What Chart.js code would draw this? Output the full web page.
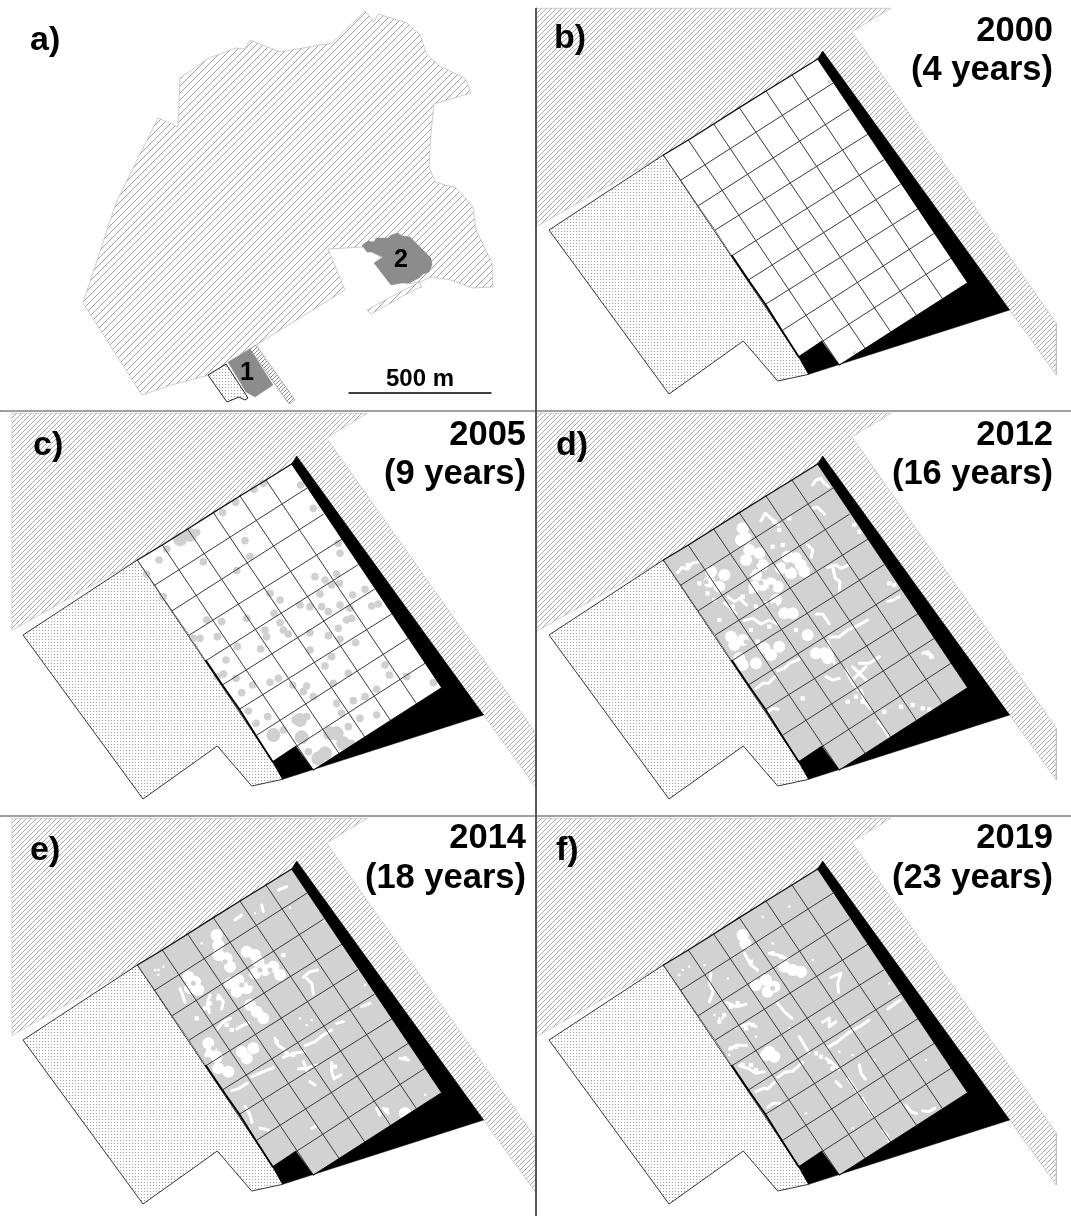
<!DOCTYPE html>
<html>
<head>
<meta charset="utf-8">
<title>Site maps</title>
<script src="https://cdn.jsdelivr.net/npm/chart.js@4/dist/chart.umd.js"></script>
<style>
  html, body { margin: 0; background: #fff; }
  canvas { display: block; }
</style>
</head>
<body>
<canvas id="map_chart" width="1071" height="1216"></canvas>
<script>
// panel a) outlines, read in page pixels
const estateOutline = [[365,11],[374,22],[378,14],[407,23],[420,35],[427,55],[441,67],[465,78],[471,93],[434,104],[431,133],[429,167],[435,182],[456,188],[473,207],[476,230],[492,263],[493,287],[472,288],[451,280],[431,277],[420,282],[406,284],[376,263],[381,257],[362,247],[328,249],[345,290],[256,345],[209,375],[171,385],[142,395],[83,303],[116,203],[137,160],[158,118],[178,127],[180,78],[209,58],[236,48],[245,49],[250,40],[280,52],[332,43]];
const estateSliver = [[367,310],[400,292],[420,282],[421,287],[410,292],[371,314]];
const patchOne = [[228,362],[250,349],[273,385],[255,397],[246,392]];
const patchTwo = [[362,245],[368,241],[374,242],[376,238],[388,238],[391,235],[398,233],[402,236],[410,237],[420,247],[431,258],[432,265],[429,272],[423,274],[419,278],[409,283],[402,283],[391,285],[374,263],[383,257],[372,252],[367,252]];
const sitePlotSmall = [[208,375],[226,364],[248,398],[245,400],[239,397],[227,402]];
const roadStrip = [[250,349],[256,345],[295,400],[289,404]];
const scaleBar = [[349,393],[491,393]];

// the site as it repeats in b) to f), in thirds of a pixel from the panel origin
const panelOrigins = { b: [656,45], c: [130,450], d: [656,450], e: [130,855], f: [656,855] };
const forestWide = [[-360,-110],[705,-110],[587,-40],[1201,835],[1201,990],[1061,795],[500,18],[485,42],[22,330],[-360,545]];
const forestLeft = [[-354,-110],[712,-110],[589,-36],[1218,851],[1218,1013],[1061,795],[500,18],[485,42],[22,330],[-354,541]];
const dottedArea = [[-321,555],[22,330],[75,405],[127,482],[178,555],[228,632],[277,705],[328,778],[378,857],[428,935],[458,988],[365,1008],[262,888],[39,1047]];
const plotOutline = [[22,330],[485,42],[935,713],[550,960],[497,888],[428,935],[378,857],[328,778],[277,705],[228,632],[178,555],[127,482],[75,405]];
const blackBorder = [[500,18],[1061,795],[458,988],[428,935],[497,888],[550,960],[935,713],[485,42]];
const thickEdge = [[228,632],[277,705],[328,778],[378,857],[428,935]];
const topEdge = [[22,330],[97,285],[173,237],[250,188],[330,138],[408,90],[485,42]];

const rowLines = [
  [[75,405],[530,115]],
  [[127,482],[580,193]],
  [[178,555],[635,268]],
  [[228,632],[683,345]],
  [[277,705],[733,418]],
  [[328,778],[785,492]],
  [[378,857],[835,565]],
  [[428,935],[885,640]],
  [[550,960],[935,713]]
];
const columnLines = [
  [[22,330],[428,935]],
  [[97,285],[550,960]],
  [[173,237],[627,910]],
  [[250,188],[705,862]],
  [[330,138],[782,812]],
  [[408,90],[860,762]],
  [[485,42],[935,713]]
];

// tree cover and gaps
const spots2000 = [[520,110],[910,675],[597,925]];
const spots2005 = [[87,330],[110,297],[50,372],[220,335],[278,188],[317,157],[372,118],[400,100],[512,105],[550,175],[345,272],[360,320],[320,362],[630,310],[625,280],[555,380],[585,390],[620,372],[570,432],[605,405],[628,400],[668,435],[705,418],[725,468],[745,462],[420,430],[450,450],[510,465],[540,470],[575,470],[595,485],[630,465],[660,475],[650,510],[665,505],[625,535],[595,557],[630,568],[677,578],[432,490],[450,518],[460,540],[475,552],[540,548],[410,560],[392,597],[350,505],[275,515],[230,510],[210,565],[190,565],[262,560],[322,590],[288,630],[280,672],[262,680],[318,685],[335,728],[368,705],[420,697],[445,685],[488,705],[530,708],[520,725],[550,740],[540,600],[605,620],[585,648],[655,670],[610,700],[670,752],[705,740],[740,718],[765,645],[778,675],[830,680],[910,698],[620,760],[635,790],[690,805],[740,795],[405,540],[100,440],[355,783],[378,820],[413,800],[495,810],[530,800],[435,850],[460,840],[535,905],[655,830],[665,880],[155,265],[175,255],[200,247]];
const clumps2005 = [[600,850],[620,850],[585,910],[565,925],[430,855],[515,862],[640,880],[510,810],[150,268],[180,255]];

const gapsBig2012 = [[165,365],[205,375],[190,410],[160,395],[260,235],[270,265],[255,270],[280,300],[310,310],[270,330],[320,345],[395,320],[420,325],[445,365],[375,355],[405,370],[435,345],[300,375],[320,405],[345,400],[365,410],[295,410],[360,450],[385,490],[410,490],[225,560],[235,585],[260,570],[325,595],[345,615],[370,590],[250,625],[260,645],[300,640],[455,555],[480,610],[505,610],[515,625]];
const gapsMid2012 = [[95,345],[130,400],[155,430],[175,450],[190,510],[230,470],[260,440],[285,425],[300,470],[330,460],[285,540],[340,530],[305,575],[420,540],[355,215],[380,285],[350,290],[370,240],[400,205],[700,400],[715,405],[620,755],[815,610],[825,620],[735,770],[770,765],[800,775],[820,778],[575,755],[600,740],[685,785],[440,745],[595,225],[610,245]];
const gapLines2012 = [[[65,368],[78,352],[95,358],[108,340],[130,335]],[[315,212],[328,190],[345,205],[368,225]],[[215,440],[235,455],[250,445],[272,465]],[[205,460],[222,472],[240,492]],[[265,512],[290,505],[315,522],[340,510],[365,522]],[[515,352],[540,345],[555,355],[578,345]],[[530,352],[538,385],[552,395],[550,420]],[[365,662],[385,655],[400,640],[430,627]],[[300,716],[320,700],[338,700],[356,680]],[[335,787],[350,775],[366,778]],[[590,650],[610,670],[630,690]],[[630,650],[612,668],[590,690]],[[610,640],[640,640],[670,620]],[[510,680],[530,690],[550,685]],[[570,660],[585,690],[605,720]],[[615,720],[625,755],[642,775]],[[665,815],[680,830],[700,862]],[[470,105],[480,90],[495,85],[505,100],[518,110]],[[470,175],[485,172],[505,192]],[[455,285],[470,300],[466,322]],[[695,455],[712,450],[730,440]],[[520,562],[550,560],[575,540],[605,527],[635,510]],[[480,492],[500,492],[520,522]],[[515,575],[525,600],[535,640]],[[800,610],[815,605],[830,622]]];
const stands2012 = [[150,395],[315,398],[350,370],[280,620],[395,350],[300,335],[240,440],[325,500],[345,410],[280,365],[200,430],[270,575],[355,465]];

const gapsBig2014 = [[175,365],[195,380],[205,405],[180,400],[260,240],[265,270],[265,300],[290,310],[300,335],[350,290],[375,300],[385,320],[405,345],[430,335],[450,360],[375,355],[300,385],[325,375],[350,400],[320,410],[360,450],[380,470],[400,490],[235,565],[245,590],[260,605],[335,590],[350,610],[370,580],[265,640],[295,650],[825,775]];
const gapsMid2014 = [[240,445],[225,460],[265,430],[290,510],[305,525],[230,600],[460,300],[440,560],[825,610],[770,765],[490,600],[470,595],[200,490],[615,635]];
const gapsSmall2014 = [[85,345],[75,345],[100,335],[85,360],[215,265],[510,490],[545,495],[530,510],[705,390],[885,720],[580,200],[480,158],[375,175]];
const gapLines2014 = [[[150,400],[158,420],[165,442]],[[240,420],[232,445],[238,472]],[[265,420],[280,440],[275,462]],[[262,522],[280,500],[302,490]],[[320,522],[340,510],[356,504]],[[520,367],[540,350],[562,345]],[[530,370],[545,385],[550,417]],[[435,550],[445,572],[462,582]],[[460,607],[490,595],[522,590]],[[505,642],[530,640],[560,630]],[[520,620],[532,650]],[[605,622],[605,650],[612,672],[632,660]],[[525,572],[555,560],[580,540],[605,525]],[[305,707],[328,700],[352,684]],[[365,665],[395,652],[430,638]],[[345,755],[358,775],[366,802]],[[760,760],[775,775]],[[810,610],[835,615]],[[445,105],[470,95]],[[315,195],[335,180]],[[395,150],[400,170]],[[545,820],[555,815]],[[695,455],[720,445]],[[620,505],[640,500]],[[390,820],[415,825]],[[540,680],[555,690]],[[740,760],[750,780]]];
const stands2014 = [[360,385],[420,345],[285,320],[250,580],[335,390],[390,345],[190,385]];

const gapsBig2019 = [[260,240],[268,265],[385,335],[410,345],[435,350],[300,390],[330,375],[355,395],[335,410],[340,590],[355,605],[330,600]];
const gapsMid2019 = [[285,320],[375,305],[350,295],[245,445],[225,455],[290,510],[270,520],[240,575],[225,580],[285,630],[300,645],[260,630],[520,620],[530,640],[495,605],[480,595],[190,500],[205,480]];
const gapsSmall2019 = [[80,345],[100,335],[70,360],[810,615],[700,385],[590,820],[450,775],[145,330],[215,370],[350,265],[470,315],[200,490],[175,480],[300,545],[550,590],[590,600],[655,615],[320,185],[400,155],[240,520],[190,490],[400,520],[220,600]];
const gapLines2019 = [[[300,710],[322,700],[335,702],[355,682]],[[365,667],[385,652],[410,648],[440,622]],[[515,577],[545,560],[575,535],[610,515],[640,495]],[[510,610],[530,625],[548,642]],[[525,367],[555,355],[545,385],[548,412]],[[430,545],[445,570],[458,592]],[[500,502],[520,490],[520,515],[540,500]],[[610,630],[615,655],[628,672]],[[695,462],[712,450],[732,435]],[[335,757],[352,745],[372,745]],[[575,670],[590,690],[606,716]],[[620,730],[632,755],[652,782]],[[680,825],[692,840],[702,862]],[[750,750],[765,770],[782,776]],[[800,767],[818,770],[836,760]],[[165,355],[160,385],[172,410],[160,440]],[[265,295],[285,330],[305,345]],[[365,445],[385,470],[408,490]],[[210,442],[240,455],[270,448]],[[255,515],[280,505],[300,515]],[[220,582],[245,570],[272,572]],[[250,632],[275,640],[300,655],[325,650]],[[340,295],[365,300],[395,312]],[[540,680],[555,695]]];
const stands2019 = [[385,370],[350,345],[350,400]];

const panelLetters = ['a)','b)','c)','d)','e)','f)'];
const yearLabels = ['2000','2005','2012','2014','2019'];
const ageLabels = ['(4 years)','(9 years)','(16 years)','(18 years)','(23 years)'];

function hatchPattern(size, color) {
  const tile = document.createElement('canvas');
  tile.width = size;
  tile.height = size;
  const c = tile.getContext('2d');
  c.strokeStyle = color;
  c.lineWidth = 1;
  c.beginPath();
  c.moveTo(-1, size + 1); c.lineTo(size + 1, -1);
  c.moveTo(-1, 1); c.lineTo(1, -1);
  c.moveTo(size - 1, size + 1); c.lineTo(size + 1, size - 1);
  c.stroke();
  return c.createPattern(tile, 'repeat');
}

function dotPattern(size, color) {
  const tile = document.createElement('canvas');
  tile.width = size;
  tile.height = size;
  const c = tile.getContext('2d');
  c.fillStyle = color;
  c.fillRect(0, 0, 1, 1);
  return c.createPattern(tile, 'repeat');
}

const fineHatch = hatchPattern(5, '#a8a8a8');
const wideHatch = hatchPattern(7, '#a0a0a0');
const dots = dotPattern(3, '#a0a0a0');

const datasets = [];

function toPoints(list, origin) {
  if (!origin) return list.map(p => ({ x: p[0], y: p[1] }));
  return list.map(p => ({ x: origin[0] + p[0] / 3, y: origin[1] + p[1] / 3 }));
}

function addShape(list, origin, fillStyle, stroke, width) {
  const pts = toPoints(list.concat([list[0]]), origin);
  datasets.push({
    data: pts,
    showLine: true,
    fill: 'shape',
    backgroundColor: fillStyle,
    borderColor: stroke || fillStyle,
    borderWidth: width === undefined ? 1 : width,
    pointRadius: 0,
    tension: 0
  });
}

function addLine(list, origin, stroke, width) {
  datasets.push({
    data: toPoints(list, origin),
    showLine: true,
    fill: false,
    borderColor: stroke,
    borderWidth: width,
    borderCapStyle: 'round',
    borderJoinStyle: 'round',
    pointRadius: 0,
    tension: 0
  });
}

function addSpots(list, origin, color, radius, style) {
  datasets.push({
    data: toPoints(list, origin),
    showLine: false,
    pointRadius: radius,
    pointStyle: style || 'circle',
    pointBackgroundColor: color,
    pointBorderColor: color,
    pointBorderWidth: 0
  });
}

function addSite(origin, forest, cover) {
  addShape(forest, origin, fineHatch, '#b5b5b5', 0.6);
  addShape(dottedArea, origin, dots, '#333', 1);
  addShape(plotOutline, origin, cover.base, cover.base, 0);
  if (cover.spots) addSpots(cover.spots, origin, cover.spotColor, cover.spotSize);
  if (cover.clumps) addSpots(cover.clumps, origin, cover.spotColor, 7);
  if (cover.big) addSpots(cover.big, origin, '#fff', 6);
  if (cover.lines) cover.lines.forEach(l => addLine(l, origin, '#fff', 3));
  if (cover.mid) addSpots(cover.mid, origin, '#fff', 3, 'rect');
  if (cover.small) addSpots(cover.small, origin, '#fff', 1.6, 'rect');
  if (cover.stands) addSpots(cover.stands, origin, cover.base, 2.5);
  rowLines.forEach(l => addLine(l, origin, '#3a3a3a', 1));
  columnLines.forEach(l => addLine(l, origin, '#3a3a3a', 1));
  addLine(topEdge, origin, '#111', 1.4);
  addLine(thickEdge, origin, '#000', 1.8);
  addShape(blackBorder, origin, '#000', '#000', 0.5);
}

// panel a
addShape(estateOutline, null, wideHatch, '#b8b8b8', 0.7);
addShape(estateSliver, null, wideHatch, '#b8b8b8', 0.7);
addShape(roadStrip, null, hatchPattern(4, '#888'), '#a0a0a0', 0.8);
addShape(patchTwo, null, '#8c8c8c', '#8c8c8c', 0.5);
addShape(patchOne, null, '#8c8c8c', '#8c8c8c', 0.5);
addShape(sitePlotSmall, null, dots, '#222', 1);
addLine(scaleBar, null, '#000', 1.3);

// panels b to f
addSite(panelOrigins.b, forestWide, { base: '#fff', spots: spots2000, spotColor: '#d6d6d6', spotSize: 2 });
addSite(panelOrigins.c, forestLeft, { base: '#fff', spots: spots2005, spotColor: '#d0d0d0', spotSize: 3.8, clumps: clumps2005 });
addSite(panelOrigins.d, forestWide, { base: '#d2d2d2', big: gapsBig2012, mid: gapsMid2012, lines: gapLines2012, stands: stands2012 });
addSite(panelOrigins.e, forestLeft, { base: '#d2d2d2', big: gapsBig2014, mid: gapsMid2014, small: gapsSmall2014, lines: gapLines2014, stands: stands2014 });
addSite(panelOrigins.f, forestWide, { base: '#d2d2d2', big: gapsBig2019, mid: gapsMid2019, small: gapsSmall2019, lines: gapLines2019, stands: stands2019 });

// dividers between the panels
addLine([[536,8],[536,1216]], null, '#444', 1);
addLine([[0,411],[1071,411]], null, '#444', 1);
addLine([[0,816],[1071,816]], null, '#444', 1);

// lower order draws later, so the list above is the painting order
datasets.forEach((d, i) => { d.order = datasets.length - i; });

const mapLabels = {
  id: 'mapLabels',
  afterDraw(chart) {
    const c = chart.ctx;
    const sx = chart.scales.x;
    const sy = chart.scales.y;
    function put(text, x, y, size, align) {
      c.font = 'bold ' + size + 'px "Liberation Sans"';
      c.textAlign = align;
      c.textBaseline = 'alphabetic';
      c.fillStyle = '#000';
      c.fillText(text, sx.getPixelForValue(x), sy.getPixelForValue(y));
    }
    c.save();
    const letterAt = [[30,50],[554,48],[33,455],[556,455],[30,860],[556,860]];
    panelLetters.forEach((t, i) => put(t, letterAt[i][0], letterAt[i][1], 34, 'left'));
    const yearAt = [[1053,41],[526,445],[1053,445],[526,848],[1053,848]];
    yearLabels.forEach((t, i) => put(t, yearAt[i][0], yearAt[i][1], 34.5, 'right'));
    const ageAt = [[1053,80],[526,484],[1053,484],[526,888],[1053,888]];
    ageLabels.forEach((t, i) => put(t, ageAt[i][0], ageAt[i][1], 34.5, 'right'));
    put('1', 247, 380, 25, 'center');
    put('2', 401, 267, 25, 'center');
    put('500 m', 420, 386, 24, 'center');
    c.restore();
  }
};

new Chart(document.getElementById('map_chart'), {
  type: 'scatter',
  data: { datasets: datasets },
  plugins: [mapLabels],
  options: {
    responsive: false,
    animation: false,
    layout: { padding: 0, autoPadding: false },
    plugins: { legend: { display: false }, tooltip: { enabled: false } },
    scales: {
      x: { type: 'linear', display: false, min: 0, max: 1071 },
      y: { type: 'linear', display: false, min: 0, max: 1216, reverse: true }
    }
  }
});
</script>
</body>
</html>
